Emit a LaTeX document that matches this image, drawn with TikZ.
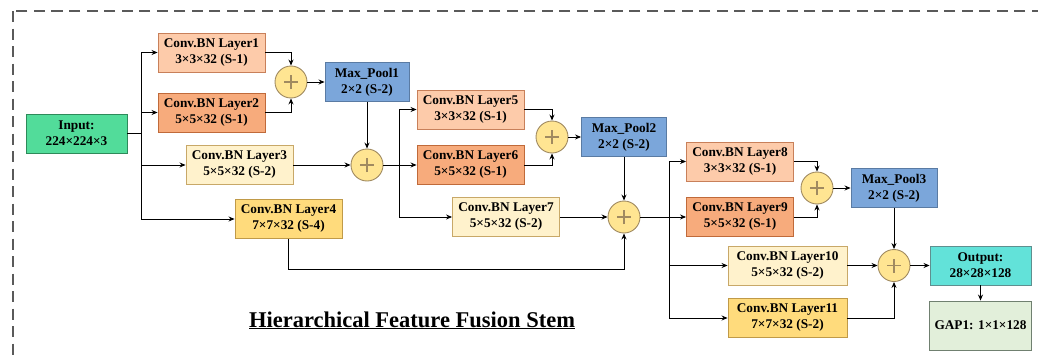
\documentclass[tikz,border=0pt]{standalone}
\usepackage{fontspec}
\setmainfont{Liberation Serif}
\usetikzlibrary{arrows.meta}
\definecolor{cAf}{HTML}{FDCBAA}\definecolor{cAb}{HTML}{C8805A}
\definecolor{cBf}{HTML}{F7AB7C}\definecolor{cBb}{HTML}{C06A3A}
\definecolor{cCf}{HTML}{FFF2CC}\definecolor{cCb}{HTML}{C8A868}
\definecolor{cDf}{HTML}{FFDB7C}\definecolor{cDb}{HTML}{C09A48}
\definecolor{mpf}{HTML}{7BA6DA}\definecolor{mpb}{HTML}{5A7BA3}
\definecolor{inf}{HTML}{52DC9A}\definecolor{inb}{HTML}{2E8A5A}
\definecolor{outf}{HTML}{62E2D9}\definecolor{outb}{HTML}{5F8F8F}
\definecolor{gapf}{HTML}{E2EFDA}\definecolor{gapb}{HTML}{708070}
\definecolor{sumf}{HTML}{FFE592}\definecolor{sumb}{HTML}{A08A60}
\definecolor{frame}{HTML}{5A5A5A}
\tikzset{
  box/.style={draw, line width=0.9pt, inner sep=0pt, minimum height=39pt, minimum width=107pt,
    align=center, font=\fontsize{13.3}{16}\selectfont\bfseries},
  sumnode/.style={circle, draw=sumb, fill=sumf, line width=0.9pt, minimum size=32pt, inner sep=0pt,
    path picture={
      \draw[line width=1.3pt] ([xshift=-7pt]path picture bounding box.center) -- ([xshift=7pt]path picture bounding box.center);
      \draw[line width=1.3pt] ([yshift=-7pt]path picture bounding box.center) -- ([yshift=7pt]path picture bounding box.center);}},
  arr/.style={-{Stealth[length=6pt,width=5pt]}, line width=0.8pt},
  ln/.style={line width=0.8pt},
  frameline/.style={draw=frame, line width=1.6pt, dash pattern=on 11pt off 6.5pt}
}
\begin{document}
\begin{tikzpicture}[x=1pt,y=-1pt]
\useasboundingbox (0,0) rectangle (1038,356);
\begin{scope}
\clip (0,0) rectangle (1038,356);
\draw[frameline] (13,11) rectangle (1060,380);
\end{scope}

% nodes
\node[box, fill=inf, draw=inb, minimum width=101pt] (In) at (76.5,133.5) {Input:\\224×224×3};
\node[box, fill=cAf, draw=cAb] (L1) at (211.5,52.5) {Conv.BN Layer1\\3×3×32 (S-1)};
\node[box, fill=cBf, draw=cBb] (L2) at (211.5,112.5) {Conv.BN Layer2\\5×5×32 (S-1)};
\node[box, fill=cCf, draw=cCb] (L3) at (239.5,165) {Conv.BN Layer3\\5×5×32 (S-2)};
\node[box, fill=cDf, draw=cDb] (L4) at (288.5,219) {Conv.BN Layer4\\7×7×32 (S-4)};
\node[sumnode] (P1) at (291,82) {};
\node[box, fill=mpf, draw=mpb, minimum width=84pt] (MP1) at (367,82) {Max\_Pool1\\2×2 (S-2)};
\node[sumnode] (P2) at (367,165) {};
\node[box, fill=cAf, draw=cAb] (L5) at (470.5,109.5) {Conv.BN Layer5\\3×3×32 (S-1)};
\node[box, fill=cBf, draw=cBb] (L6) at (470.5,165) {Conv.BN Layer6\\5×5×32 (S-1)};
\node[sumnode] (P4) at (552,137) {};
\node[box, fill=mpf, draw=mpb, minimum width=85pt] (MP2) at (624,137) {Max\_Pool2\\2×2 (S-2)};
\node[box, fill=cCf, draw=cCb] (L7) at (506,217) {Conv.BN Layer7\\5×5×32 (S-2)};
\node[sumnode] (P3) at (624,217) {};
\node[box, fill=cAf, draw=cAb] (L8) at (740,161.5) {Conv.BN Layer8\\3×3×32 (S-1)};
\node[box, fill=cBf, draw=cBb] (L9) at (740,217) {Conv.BN Layer9\\5×5×32 (S-1)};
\node[sumnode] (P5) at (817,188) {};
\node[box, fill=mpf, draw=mpb, minimum width=86pt] (MP3) at (894,188) {Max\_Pool3\\2×2 (S-2)};
\node[box, fill=cCf, draw=cCb, minimum width=119pt] (L10) at (787.5,265.5) {Conv.BN Layer10\\5×5×32 (S-2)};
\node[box, fill=cDf, draw=cDb, minimum width=119pt] (L11) at (787.5,318) {Conv.BN Layer11\\7×7×32 (S-2)};
\node[sumnode] (P6) at (894,265.5) {};
\node[box, fill=outf, draw=outb, minimum width=101pt] (Out) at (980.5,265.5) {Output:\\28×28×128};
\node[box, fill=gapf, draw=gapb, minimum width=102pt, minimum height=49pt] (GAP) at (980.5,325.5) {GAP1: 1×1×128};

\node[font=\fontsize{22.5}{25}\selectfont\bfseries, anchor=base] (T) at (412,327) {\underline{Hierarchical Feature Fusion Stem}};

% junctions
\coordinate (j1) at (141,133.5);
\coordinate (j2) at (399,165);
\coordinate (j3) at (669,217);
\coordinate (k4) at (288.5,269);

% connectors
\draw[ln] (In.east) -- (j1);
\draw[arr] (j1) |- (L1.west);
\draw[arr] (j1) |- (L2.west);
\draw[arr] (j1) |- (L3.west);
\draw[arr] (j1) |- (L4.west);
\draw[arr] (L1.east) -| (P1.north);
\draw[arr] (L2.east) -| (P1.south);
\draw[arr] (P1.east) -- (MP1.west);
\draw[arr] (MP1.south) -- (P2.north);
\draw[arr] (L3.east) -- (P2.west);
\draw[ln] (P2.east) -- (j2);
\draw[arr] (j2) |- (L5.west);
\draw[arr] (j2) -- (L6.west);
\draw[arr] (j2) |- (L7.west);
\draw[arr] (L5.east) -| (P4.north);
\draw[arr] (L6.east) -| (P4.south);
\draw[arr] (P4.east) -- (MP2.west);
\draw[arr] (MP2.south) -- (P3.north);
\draw[arr] (L7.east) -- (P3.west);
\draw[arr] (L4.south) -- (k4) -| (P3.south);
\draw[ln] (P3.east) -- (j3);
\draw[arr] (j3) |- (L8.west);
\draw[arr] (j3) -- (L9.west);
\draw[arr] (j3) |- (L10.west);
\draw[arr] (j3) |- (L11.west);
\draw[arr] (L8.east) -| (P5.north);
\draw[arr] (L9.east) -| (P5.south);
\draw[arr] (P5.east) -- (MP3.west);
\draw[arr] (MP3.south) -- (P6.north);
\draw[arr] (L10.east) -- (P6.west);
\draw[arr] (L11.east) -| (P6.south);
\draw[arr] (P6.east) -- (Out.west);
\draw[arr] (Out.south) -- (GAP.north);
\end{tikzpicture}
\end{document}
